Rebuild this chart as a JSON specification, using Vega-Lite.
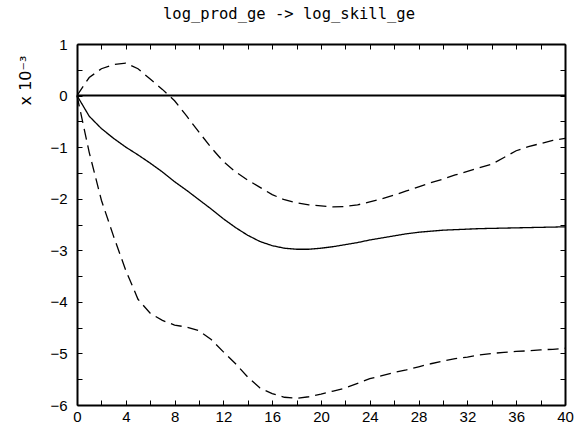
{
  "$schema": "https://vega.github.io/schema/vega-lite/v6.json",
  "width": 488,
  "height": 361,
  "autosize": {"type": "none"},
  "padding": {"left": 77, "top": 44, "right": 12, "bottom": 25},
  "background": "white",
  "config": {"view": {"stroke": null}, "font": "Liberation Sans"},
  "title": {"text": "log_prod_ge -> log_skill_ge", "font": "DejaVu Sans Mono", "fontSize": 15.5, "fontWeight": "normal", "color": "black", "anchor": "middle", "dx": -32, "offset": 15},
  "datasets": {
    "irf": [
      {"step": 0, "series": "lower", "value": 0}, {"step": 1, "series": "lower", "value": -1.1}, {"step": 2, "series": "lower", "value": -2.03}, {"step": 3, "series": "lower", "value": -2.73}, {"step": 4, "series": "lower", "value": -3.39}, {"step": 5, "series": "lower", "value": -3.95}, {"step": 6, "series": "lower", "value": -4.22}, {"step": 7, "series": "lower", "value": -4.36}, {"step": 8, "series": "lower", "value": -4.45}, {"step": 9, "series": "lower", "value": -4.49}, {"step": 10, "series": "lower", "value": -4.56}, {"step": 11, "series": "lower", "value": -4.73}, {"step": 12, "series": "lower", "value": -4.97}, {"step": 13, "series": "lower", "value": -5.2}, {"step": 14, "series": "lower", "value": -5.46}, {"step": 15, "series": "lower", "value": -5.67}, {"step": 16, "series": "lower", "value": -5.78}, {"step": 17, "series": "lower", "value": -5.85}, {"step": 18, "series": "lower", "value": -5.87}, {"step": 19, "series": "lower", "value": -5.84}, {"step": 20, "series": "lower", "value": -5.79}, {"step": 21, "series": "lower", "value": -5.73}, {"step": 22, "series": "lower", "value": -5.67}, {"step": 23, "series": "lower", "value": -5.58}, {"step": 24, "series": "lower", "value": -5.49}, {"step": 25, "series": "lower", "value": -5.43}, {"step": 26, "series": "lower", "value": -5.37}, {"step": 27, "series": "lower", "value": -5.32}, {"step": 28, "series": "lower", "value": -5.26}, {"step": 29, "series": "lower", "value": -5.2}, {"step": 30, "series": "lower", "value": -5.15}, {"step": 31, "series": "lower", "value": -5.1}, {"step": 32, "series": "lower", "value": -5.07}, {"step": 33, "series": "lower", "value": -5.03}, {"step": 34, "series": "lower", "value": -5.0}, {"step": 35, "series": "lower", "value": -4.98}, {"step": 36, "series": "lower", "value": -4.96}, {"step": 37, "series": "lower", "value": -4.95}, {"step": 38, "series": "lower", "value": -4.93}, {"step": 39, "series": "lower", "value": -4.92}, {"step": 40, "series": "lower", "value": -4.9},
      {"step": 0, "series": "median", "value": 0}, {"step": 1, "series": "median", "value": -0.4}, {"step": 2, "series": "median", "value": -0.64}, {"step": 3, "series": "median", "value": -0.83}, {"step": 4, "series": "median", "value": -1.0}, {"step": 5, "series": "median", "value": -1.15}, {"step": 6, "series": "median", "value": -1.31}, {"step": 7, "series": "median", "value": -1.48}, {"step": 8, "series": "median", "value": -1.67}, {"step": 9, "series": "median", "value": -1.84}, {"step": 10, "series": "median", "value": -2.02}, {"step": 11, "series": "median", "value": -2.2}, {"step": 12, "series": "median", "value": -2.39}, {"step": 13, "series": "median", "value": -2.56}, {"step": 14, "series": "median", "value": -2.71}, {"step": 15, "series": "median", "value": -2.83}, {"step": 16, "series": "median", "value": -2.91}, {"step": 17, "series": "median", "value": -2.96}, {"step": 18, "series": "median", "value": -2.98}, {"step": 19, "series": "median", "value": -2.98}, {"step": 20, "series": "median", "value": -2.96}, {"step": 21, "series": "median", "value": -2.93}, {"step": 22, "series": "median", "value": -2.89}, {"step": 23, "series": "median", "value": -2.85}, {"step": 24, "series": "median", "value": -2.8}, {"step": 25, "series": "median", "value": -2.76}, {"step": 26, "series": "median", "value": -2.72}, {"step": 27, "series": "median", "value": -2.68}, {"step": 28, "series": "median", "value": -2.65}, {"step": 29, "series": "median", "value": -2.63}, {"step": 30, "series": "median", "value": -2.61}, {"step": 31, "series": "median", "value": -2.6}, {"step": 32, "series": "median", "value": -2.59}, {"step": 33, "series": "median", "value": -2.58}, {"step": 34, "series": "median", "value": -2.575}, {"step": 35, "series": "median", "value": -2.57}, {"step": 36, "series": "median", "value": -2.565}, {"step": 37, "series": "median", "value": -2.56}, {"step": 38, "series": "median", "value": -2.555}, {"step": 39, "series": "median", "value": -2.55}, {"step": 40, "series": "median", "value": -2.545},
      {"step": 0, "series": "upper", "value": 0}, {"step": 1, "series": "upper", "value": 0.35}, {"step": 2, "series": "upper", "value": 0.52}, {"step": 3, "series": "upper", "value": 0.6}, {"step": 4, "series": "upper", "value": 0.63}, {"step": 5, "series": "upper", "value": 0.52}, {"step": 6, "series": "upper", "value": 0.32}, {"step": 7, "series": "upper", "value": 0.12}, {"step": 8, "series": "upper", "value": -0.1}, {"step": 9, "series": "upper", "value": -0.4}, {"step": 10, "series": "upper", "value": -0.71}, {"step": 11, "series": "upper", "value": -1.01}, {"step": 12, "series": "upper", "value": -1.28}, {"step": 13, "series": "upper", "value": -1.48}, {"step": 14, "series": "upper", "value": -1.64}, {"step": 15, "series": "upper", "value": -1.78}, {"step": 16, "series": "upper", "value": -1.92}, {"step": 17, "series": "upper", "value": -2.02}, {"step": 18, "series": "upper", "value": -2.08}, {"step": 19, "series": "upper", "value": -2.12}, {"step": 20, "series": "upper", "value": -2.14}, {"step": 21, "series": "upper", "value": -2.16}, {"step": 22, "series": "upper", "value": -2.15}, {"step": 23, "series": "upper", "value": -2.12}, {"step": 24, "series": "upper", "value": -2.06}, {"step": 25, "series": "upper", "value": -2.0}, {"step": 26, "series": "upper", "value": -1.93}, {"step": 27, "series": "upper", "value": -1.85}, {"step": 28, "series": "upper", "value": -1.77}, {"step": 29, "series": "upper", "value": -1.69}, {"step": 30, "series": "upper", "value": -1.62}, {"step": 31, "series": "upper", "value": -1.54}, {"step": 32, "series": "upper", "value": -1.47}, {"step": 33, "series": "upper", "value": -1.4}, {"step": 34, "series": "upper", "value": -1.33}, {"step": 35, "series": "upper", "value": -1.2}, {"step": 36, "series": "upper", "value": -1.07}, {"step": 37, "series": "upper", "value": -0.99}, {"step": 38, "series": "upper", "value": -0.93}, {"step": 39, "series": "upper", "value": -0.87}, {"step": 40, "series": "upper", "value": -0.83}
    ],
    "zero": [{"x0": 0, "x1": 40, "y": 0}]
  },
  "resolve": {"axis": {"x": "independent", "y": "independent"}},
  "layer": [
    {
      "data": {"name": "irf"},
      "mark": {"type": "line", "color": "black", "strokeWidth": 1.3},
      "encoding": {
        "x": {"field": "step", "type": "quantitative", "scale": {"domain": [0, 40], "nice": false, "zero": false},
          "axis": {"orient": "bottom", "title": null, "values": [0,2,4,6,8,10,12,14,16,18,20,22,24,26,28,30,32,34,36,38,40], "labelExpr": "datum.value % 4 == 0 ? datum.label : ''", "grid": false, "domainColor": "black", "domainWidth": 2, "tickColor": "black", "tickWidth": 1, "tickSize": -5, "labelFont": "Liberation Sans", "labelFontSize": 15, "labelColor": "black", "labelPadding": 9, "labelFlush": false, "labelOverlap": false}},
        "y": {"field": "value", "type": "quantitative", "scale": {"domain": [-6, 1], "nice": false, "zero": false},
          "axis": {"orient": "left", "values": [-6,-5.5,-5,-4.5,-4,-3.5,-3,-2.5,-2,-1.5,-1,-0.5,0,0.5,1], "format": ".0f", "labelExpr": "datum.value % 1 == 0 ? datum.label : ''", "grid": false, "domainColor": "black", "domainWidth": 2, "tickColor": "black", "tickWidth": 1, "tickSize": -5, "labelFont": "Liberation Sans", "labelFontSize": 15, "labelColor": "black", "labelPadding": 15, "labelFlush": false, "labelOverlap": false,
            "title": "x 10⁻³", "titleFont": "DejaVu Sans", "titleFontSize": 16, "titleFontWeight": "normal", "titleColor": "black", "titleAngle": 270, "titleAlign": "center", "titleBaseline": "middle", "titleX": -52, "titleY": 36}},
        "detail": {"field": "series"},
        "strokeDash": {"field": "series", "type": "nominal", "scale": {"domain": ["lower", "median", "upper"], "range": [[11, 6], [1, 0], [11, 6]]}, "legend": null}
      }
    },
    {
      "data": {"name": "zero"},
      "mark": {"type": "rule", "color": "black", "strokeWidth": 2},
      "encoding": {
        "x": {"field": "x0", "type": "quantitative", "axis": {"orient": "top", "title": null, "labels": false, "values": [0,2,4,6,8,10,12,14,16,18,20,22,24,26,28,30,32,34,36,38,40], "grid": false, "domainColor": "black", "domainWidth": 2, "tickColor": "black", "tickWidth": 1, "tickSize": -5}},
        "x2": {"field": "x1"},
        "y": {"field": "y", "type": "quantitative", "axis": {"orient": "right", "title": null, "labels": false, "values": [-6,-5.5,-5,-4.5,-4,-3.5,-3,-2.5,-2,-1.5,-1,-0.5,0,0.5,1], "grid": false, "domainColor": "black", "domainWidth": 2, "tickColor": "black", "tickWidth": 1, "tickSize": -5}}
      }
    }
  ]
}
